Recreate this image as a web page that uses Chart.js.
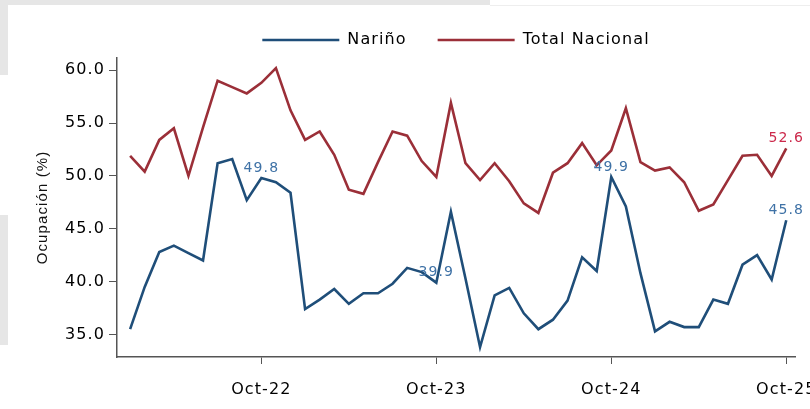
<!DOCTYPE html>
<html>
<head>
<meta charset="utf-8">
<script src="https://cdn.jsdelivr.net/npm/chart.js@4.4.0/dist/chart.umd.min.js"></script>
<style>
  html, body { margin: 0; padding: 0; background: #fff; }
  body { width: 810px; height: 409px; position: relative; overflow: hidden; }
  .bg { position: absolute; background: #e6e6e6; }
  canvas { position: absolute; left: 0; top: 0; }
</style>
</head>
<body>
<div class="bg" style="left:0;top:0;width:490px;height:5px"></div>
<div class="bg" style="left:0;top:0;width:8px;height:75px"></div>
<div class="bg" style="left:0;top:215px;width:8px;height:130px"></div>
<div class="bg" style="left:490px;top:5px;width:320px;height:1px;background:#eee"></div>
<canvas id="chart" width="810" height="409"></canvas>
<script>
const months = [
  "Jan-22", "Feb-22", "Mar-22", "Apr-22", "May-22", "Jun-22", "Jul-22", "Aug-22", "Sep-22", "Oct-22", "Nov-22", "Dec-22",
  "Jan-23", "Feb-23", "Mar-23", "Apr-23", "May-23", "Jun-23", "Jul-23", "Aug-23", "Sep-23", "Oct-23", "Nov-23", "Dec-23",
  "Jan-24", "Feb-24", "Mar-24", "Apr-24", "May-24", "Jun-24", "Jul-24", "Aug-24", "Sep-24", "Oct-24", "Nov-24", "Dec-24",
  "Jan-25", "Feb-25", "Mar-25", "Apr-25", "May-25", "Jun-25", "Jul-25", "Aug-25", "Sep-25", "Oct-25"
];

const narino = [
  35.5, 39.5, 42.8, 43.4, 42.7, 42.0, 51.2, 51.6, 47.7, 49.8, 49.4, 48.4,
  37.4, 38.3, 39.3, 37.9, 38.9, 38.9, 39.8, 41.3, 40.9, 39.9, 46.6, 40.3,
  33.8, 38.7, 39.4, 37.0, 35.5, 36.4, 38.2, 42.3, 41.0, 49.9, 47.1, 40.8,
  35.3, 36.2, 35.7, 35.7, 38.3, 37.9, 41.6, 42.5, 40.2, 45.8
];

const nacional = [
  51.9, 50.4, 53.4, 54.5, 50.0, 54.6, 59.0, 58.4, 57.8, 58.8, 60.2, 56.2,
  53.4, 54.2, 52.0, 48.7, 48.3, 51.3, 54.2, 53.8, 51.4, 49.9, 56.9, 51.2,
  49.6, 51.2, 49.5, 47.4, 46.5, 50.3, 51.2, 53.1, 51.0, 52.4, 56.4, 51.3,
  50.5, 50.8, 49.4, 46.7, 47.3, 49.6, 51.9, 52.0, 50.0, 52.6
];

const yTicks = [35, 40, 45, 50, 55, 60];
const xTickIdx = [9, 21, 33, 45];
// points that carry a value label
const narinoLabels = [9, 21, 33, 45];
const nacionalLabels = [45];

const toPoints = (arr) => arr.map((v, i) => ({ x: i, y: v }));

// the reference text is horizontally wide, so open up the letters a bit
const spacing = {
  id: "spacing",
  beforeLayout(chart) { chart.ctx.letterSpacing = "1.1px"; },
  beforeDraw(chart) { chart.ctx.letterSpacing = "1.1px"; },
};

const valueLabels = {
  id: "valueLabels",
  afterDatasetsDraw(chart) {
    const ctx = chart.ctx;
    const sets = [
      { idx: 0, list: narinoLabels, data: narino, color: "#3f72a6" },
      { idx: 1, list: nacionalLabels, data: nacional, color: "#cc2a4c" },
    ];
    ctx.save();
    ctx.font = "14px 'DejaVu Sans', sans-serif";
    ctx.textAlign = "center";
    ctx.textBaseline = "middle";
    sets.forEach((s) => {
      const meta = chart.getDatasetMeta(s.idx);
      ctx.fillStyle = s.color;
      s.list.forEach((i) => {
        const pt = meta.data[i];
        ctx.fillText(s.data[i].toFixed(1), pt.x, pt.y - 10);
      });
    });
    ctx.restore();
  },
};

new Chart(document.getElementById("chart"), {
  type: "line",
  data: {
    datasets: [
      {
        label: "Nariño",
        data: toPoints(narino),
        borderColor: "#1f4e79",
        backgroundColor: "#1f4e79",
        borderWidth: 2.6,
        pointRadius: 0,
        tension: 0,
      },
      {
        label: "Total Nacional",
        data: toPoints(nacional),
        borderColor: "#9b2f38",
        backgroundColor: "#9b2f38",
        borderWidth: 2.6,
        pointRadius: 0,
        tension: 0,
      },
    ],
  },
  options: {
    responsive: false,
    animation: false,
    layout: { padding: { left: 0, right: 15, top: 1, bottom: 0 } },
    plugins: {
      tooltip: { enabled: false },
      legend: {
        position: "top",
        fullSize: false,
        labels: {
          usePointStyle: true,
          pointStyle: "line",
          pointStyleWidth: 77,
          color: "#000",
          padding: 31,
          font: { family: "'DejaVu Sans', sans-serif", size: 16 },
        },
      },
    },
    scales: {
      x: {
        type: "linear",
        min: -0.9,
        max: 45.6,
        afterBuildTicks: (scale) => {
          scale.ticks = xTickIdx.map((v) => ({ value: v }));
        },
        afterFit: (scale) => {
          scale.height = 52;
          scale.paddingLeft = 0;
          scale.paddingRight = 0;
        },
        ticks: {
          autoSkip: false,
          maxRotation: 0,
          color: "#000",
          padding: 16,
          font: { family: "'DejaVu Sans', sans-serif", size: 16 },
          callback: (v) => months[v],
        },
        grid: { drawOnChartArea: false, drawTicks: true, tickLength: 7, color: "#555" },
        border: { color: "#555", width: 1.5 },
      },
      y: {
        min: 32.87,
        max: 61.15,
        afterBuildTicks: (scale) => {
          scale.ticks = yTicks.map((v) => ({ value: v }));
        },
        afterFit: (scale) => {
          scale.width = 117;
        },
        ticks: {
          color: "#000",
          padding: 4,
          font: { family: "'DejaVu Sans', sans-serif", size: 16 },
          callback: (v) => v.toFixed(1),
        },
        grid: { drawOnChartArea: false, drawTicks: true, tickLength: 8, color: "#555" },
        border: { color: "#555", width: 1.5 },
        title: {
          display: true,
          text: "Ocupación (%)",
          color: "#111",
          padding: { top: 34, bottom: 0 },
          font: { family: "'Liberation Sans Narrow', 'Liberation Sans', sans-serif", size: 15 },
        },
      },
    },
  },
  plugins: [spacing, valueLabels],
});
</script>
</body>
</html>
